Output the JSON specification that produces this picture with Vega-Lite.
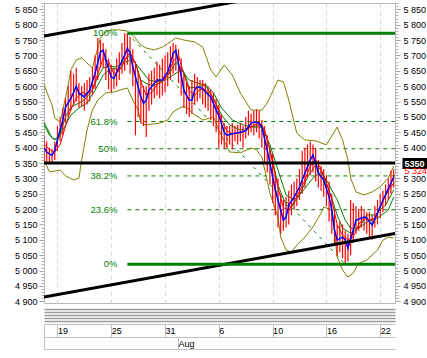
{
"$schema": "https://vega.github.io/schema/vega-lite/v6.json",
"width": 351, "height": 300,
"autosize": {"type": "none"},
"padding": {"left": 44, "top": 3, "right": 32, "bottom": 55},
"background": "white",
"config": {"view": {"stroke": "#b8b8b8", "strokeWidth": 1}, "axis": {"labelFont": "Liberation Sans", "labelFontSize": 9, "labelColor": "black"}},
"resolve": {"axis": {"x": "independent", "y": "independent"}},
"datasets": {
"fib": [{"name":"100%","p":5772,"i":31,"i2":130.5},{"name":"61.8%","p":5485,"i":31,"i2":130.5},{"name":"50%","p":5396.5,"i":31,"i2":130.5},{"name":"38.2%","p":5308,"i":31,"i2":130.5},{"name":"23.6%","p":5198,"i":31,"i2":130.5},{"name":"0%","p":5021,"i":31,"i2":130.5}],
"diag": [{"i":31,"p":5772},{"i":112,"p":5021}],
"trend": [{"s":"up","i":0,"p":5763},{"s":"up","i":130.5,"p":5967},{"s":"dn","i":0,"p":4914},{"s":"dn","i":130.5,"p":5121}],
"level": [{"p":5350}],
"bars": [
{"i":0,"lo":5350,"hi":5440},{"i":1,"lo":5355,"hi":5420},{"i":2,"lo":5345,"hi":5400},{"i":3,"lo":5350,"hi":5395},{"i":4,"lo":5360,"hi":5420},{"i":5,"lo":5390,"hi":5470},{"i":6,"lo":5420,"hi":5500},{"i":7,"lo":5440,"hi":5530},{"i":8,"lo":5480,"hi":5560},{"i":9,"lo":5500,"hi":5600},
{"i":10,"lo":5520,"hi":5650},{"i":11,"lo":5540,"hi":5640},{"i":12,"lo":5550,"hi":5660},{"i":13,"lo":5530,"hi":5610},{"i":14,"lo":5535,"hi":5600},{"i":15,"lo":5520,"hi":5610},{"i":16,"lo":5540,"hi":5620},{"i":17,"lo":5550,"hi":5630},{"i":18,"lo":5570,"hi":5660},{"i":19,"lo":5590,"hi":5700},
{"i":20,"lo":5620,"hi":5757},{"i":21,"lo":5660,"hi":5750},{"i":22,"lo":5660,"hi":5740},{"i":23,"lo":5620,"hi":5720},{"i":24,"lo":5590,"hi":5690},{"i":25,"lo":5580,"hi":5670},{"i":26,"lo":5590,"hi":5660},{"i":27,"lo":5600,"hi":5690},{"i":28,"lo":5620,"hi":5710},{"i":29,"lo":5640,"hi":5740},
{"i":30,"lo":5650,"hi":5772},{"i":31,"lo":5670,"hi":5772},{"i":32,"lo":5640,"hi":5760},{"i":33,"lo":5600,"hi":5720},{"i":34,"lo":5440,"hi":5680},{"i":35,"lo":5500,"hi":5650},{"i":36,"lo":5480,"hi":5620},{"i":37,"lo":5470,"hi":5600},{"i":38,"lo":5435,"hi":5600},{"i":39,"lo":5520,"hi":5640},
{"i":40,"lo":5540,"hi":5650},{"i":41,"lo":5560,"hi":5660},{"i":42,"lo":5570,"hi":5680},{"i":43,"lo":5560,"hi":5670},{"i":44,"lo":5570,"hi":5690},{"i":45,"lo":5580,"hi":5700},{"i":46,"lo":5600,"hi":5710},{"i":47,"lo":5620,"hi":5730},{"i":48,"lo":5640,"hi":5740},{"i":49,"lo":5650,"hi":5735},
{"i":50,"lo":5610,"hi":5720},{"i":51,"lo":5570,"hi":5690},{"i":52,"lo":5530,"hi":5640},{"i":53,"lo":5510,"hi":5610},{"i":54,"lo":5500,"hi":5600},{"i":55,"lo":5510,"hi":5620},{"i":56,"lo":5540,"hi":5640},{"i":57,"lo":5550,"hi":5630},{"i":58,"lo":5560,"hi":5620},{"i":59,"lo":5540,"hi":5620},
{"i":60,"lo":5530,"hi":5610},{"i":61,"lo":5520,"hi":5600},{"i":62,"lo":5490,"hi":5590},{"i":63,"lo":5470,"hi":5580},{"i":64,"lo":5450,"hi":5560},{"i":65,"lo":5400,"hi":5540},{"i":66,"lo":5410,"hi":5510},{"i":67,"lo":5395,"hi":5480},{"i":68,"lo":5400,"hi":5470},{"i":69,"lo":5410,"hi":5470},
{"i":70,"lo":5395,"hi":5480},{"i":71,"lo":5420,"hi":5470},{"i":72,"lo":5410,"hi":5475},{"i":73,"lo":5420,"hi":5480},{"i":74,"lo":5400,"hi":5470},{"i":75,"lo":5430,"hi":5500},{"i":76,"lo":5440,"hi":5520},{"i":77,"lo":5450,"hi":5510},{"i":78,"lo":5440,"hi":5520},{"i":79,"lo":5450,"hi":5525},
{"i":80,"lo":5430,"hi":5520},{"i":81,"lo":5400,"hi":5490},{"i":82,"lo":5350,"hi":5470},{"i":83,"lo":5320,"hi":5440},{"i":84,"lo":5280,"hi":5400},{"i":85,"lo":5220,"hi":5380},{"i":86,"lo":5180,"hi":5320},{"i":87,"lo":5140,"hi":5300},{"i":88,"lo":5120,"hi":5250},{"i":89,"lo":5130,"hi":5230},
{"i":90,"lo":5140,"hi":5240},{"i":91,"lo":5150,"hi":5260},{"i":92,"lo":5180,"hi":5280},{"i":93,"lo":5200,"hi":5290},{"i":94,"lo":5210,"hi":5300},{"i":95,"lo":5230,"hi":5330},{"i":96,"lo":5250,"hi":5390},{"i":97,"lo":5270,"hi":5400},{"i":98,"lo":5300,"hi":5410},{"i":99,"lo":5310,"hi":5420},
{"i":100,"lo":5320,"hi":5410},{"i":101,"lo":5290,"hi":5400},{"i":102,"lo":5270,"hi":5360},{"i":103,"lo":5260,"hi":5340},{"i":104,"lo":5240,"hi":5330},{"i":105,"lo":5210,"hi":5310},{"i":106,"lo":5160,"hi":5290},{"i":107,"lo":5120,"hi":5250},{"i":108,"lo":5080,"hi":5200},{"i":109,"lo":5050,"hi":5150},
{"i":110,"lo":5060,"hi":5160},{"i":111,"lo":5040,"hi":5150},{"i":112,"lo":5021,"hi":5130},{"i":113,"lo":5030,"hi":5120},{"i":114,"lo":5050,"hi":5230},{"i":115,"lo":5090,"hi":5220},{"i":116,"lo":5120,"hi":5210},{"i":117,"lo":5130,"hi":5200},{"i":118,"lo":5140,"hi":5210},{"i":119,"lo":5130,"hi":5200},
{"i":120,"lo":5120,"hi":5190},{"i":121,"lo":5110,"hi":5190},{"i":122,"lo":5100,"hi":5180},{"i":123,"lo":5140,"hi":5210},{"i":124,"lo":5150,"hi":5230},{"i":125,"lo":5170,"hi":5250},{"i":126,"lo":5190,"hi":5260},{"i":127,"lo":5210,"hi":5280},{"i":128,"lo":5230,"hi":5300},{"i":129,"lo":5250,"hi":5325},{"i":130,"lo":5270,"hi":5330}],
"blue": [{"i":0,"p":5400},{"i":1,"p":5385},{"i":3,"p":5375},{"i":4,"p":5390},{"i":5,"p":5425},{"i":7,"p":5490},{"i":8,"p":5532},{"i":10,"p":5560},{"i":12,"p":5600},{"i":13,"p":5577},{"i":15,"p":5565},{"i":17,"p":5587},{"i":19,"p":5642},{"i":21,"p":5711},{"i":22,"p":5717},{"i":23,"p":5685},{"i":25,"p":5630},{"i":26,"p":5625},{"i":28,"p":5663},{"i":30,"p":5701},{"i":31,"p":5723},{"i":32,"p":5707},{"i":33,"p":5663},{"i":35,"p":5598},{"i":36,"p":5565},{"i":37,"p":5544},{"i":38,"p":5554},{"i":39,"p":5587},{"i":41,"p":5609},{"i":42,"p":5620},{"i":44,"p":5620},{"i":46,"p":5646},{"i":47,"p":5674},{"i":48,"p":5706},{"i":49,"p":5717},{"i":50,"p":5674},{"i":51,"p":5636},{"i":52,"p":5587},{"i":54,"p":5554},{"i":55,"p":5554},{"i":56,"p":5587},{"i":57,"p":5598},{"i":59,"p":5593},{"i":60,"p":5581},{"i":62,"p":5565},{"i":63,"p":5544},{"i":64,"p":5522},{"i":65,"p":5505},{"i":67,"p":5450},{"i":68,"p":5440},{"i":70,"p":5445},{"i":73,"p":5450},{"i":75,"p":5455},{"i":77,"p":5480},{"i":78,"p":5483},{"i":80,"p":5480},{"i":81,"p":5465},{"i":82,"p":5430},{"i":83,"p":5390},{"i":84,"p":5350},{"i":86,"p":5262},{"i":88,"p":5197},{"i":89,"p":5164},{"i":90,"p":5174},{"i":91,"p":5213},{"i":93,"p":5239},{"i":95,"p":5272},{"i":97,"p":5317},{"i":99,"p":5360},{"i":100,"p":5376},{"i":101,"p":5350},{"i":102,"p":5317},{"i":104,"p":5295},{"i":106,"p":5239},{"i":107,"p":5197},{"i":108,"p":5132},{"i":109,"p":5099},{"i":111,"p":5109},{"i":112,"p":5100},{"i":113,"p":5073},{"i":115,"p":5132},{"i":116,"p":5164},{"i":119,"p":5174},{"i":120,"p":5171},{"i":122,"p":5148},{"i":124,"p":5187},{"i":126,"p":5229},{"i":129,"p":5285},{"i":130,"p":5304}],
"redma": [{"i":0,"p":5410},{"i":2,"p":5395},{"i":4,"p":5385},{"i":6,"p":5410},{"i":8,"p":5470},{"i":10,"p":5525},{"i":12,"p":5560},{"i":14,"p":5580},{"i":16,"p":5575},{"i":18,"p":5590},{"i":20,"p":5640},{"i":22,"p":5690},{"i":24,"p":5680},{"i":26,"p":5640},{"i":28,"p":5650},{"i":30,"p":5685},{"i":32,"p":5710},{"i":34,"p":5675},{"i":36,"p":5615},{"i":38,"p":5570},{"i":40,"p":5580},{"i":42,"p":5605},{"i":44,"p":5618},{"i":46,"p":5635},{"i":48,"p":5680},{"i":50,"p":5700},{"i":52,"p":5640},{"i":54,"p":5585},{"i":56,"p":5570},{"i":58,"p":5590},{"i":60,"p":5588},{"i":62,"p":5572},{"i":64,"p":5540},{"i":66,"p":5490},{"i":68,"p":5455},{"i":70,"p":5445},{"i":73,"p":5448},{"i":76,"p":5462},{"i":79,"p":5478},{"i":81,"p":5475},{"i":83,"p":5430},{"i":85,"p":5350},{"i":87,"p":5270},{"i":89,"p":5205},{"i":91,"p":5195},{"i":93,"p":5225},{"i":95,"p":5258},{"i":97,"p":5295},{"i":99,"p":5340},{"i":101,"p":5360},{"i":103,"p":5330},{"i":105,"p":5285},{"i":107,"p":5230},{"i":109,"p":5150},{"i":111,"p":5115},{"i":113,"p":5100},{"i":115,"p":5110},{"i":117,"p":5150},{"i":119,"p":5170},{"i":121,"p":5165},{"i":123,"p":5170},{"i":125,"p":5205},{"i":127,"p":5245},{"i":130,"p":5285}],
"g1": [{"i":0,"p":5474},{"i":2,"p":5441},{"i":4,"p":5425},{"i":6,"p":5447},{"i":8,"p":5500},{"i":10,"p":5532},{"i":13,"p":5545},{"i":15,"p":5555},{"i":18,"p":5587},{"i":20,"p":5630},{"i":22,"p":5660},{"i":25,"p":5665},{"i":27,"p":5662},{"i":30,"p":5685},{"i":32,"p":5701},{"i":34,"p":5675},{"i":36,"p":5620},{"i":39,"p":5604},{"i":41,"p":5604},{"i":44,"p":5614},{"i":47,"p":5646},{"i":49,"p":5679},{"i":52,"p":5646},{"i":54,"p":5594},{"i":57,"p":5597},{"i":60,"p":5604},{"i":63,"p":5561},{"i":66,"p":5506},{"i":69,"p":5474},{"i":73,"p":5457},{"i":77,"p":5467},{"i":80,"p":5474},{"i":82,"p":5457},{"i":85,"p":5360},{"i":87,"p":5278},{"i":90,"p":5213},{"i":92,"p":5207},{"i":95,"p":5246},{"i":98,"p":5304},{"i":101,"p":5344},{"i":103,"p":5327},{"i":106,"p":5262},{"i":109,"p":5181},{"i":111,"p":5138},{"i":114,"p":5122},{"i":117,"p":5138},{"i":120,"p":5181},{"i":123,"p":5181},{"i":127,"p":5213},{"i":130,"p":5262}],
"g2": [{"i":0,"p":5483},{"i":3,"p":5431},{"i":5,"p":5425},{"i":7,"p":5457},{"i":10,"p":5506},{"i":13,"p":5529},{"i":16,"p":5545},{"i":19,"p":5587},{"i":22,"p":5636},{"i":25,"p":5659},{"i":28,"p":5653},{"i":30,"p":5679},{"i":33,"p":5685},{"i":36,"p":5653},{"i":39,"p":5620},{"i":42,"p":5614},{"i":45,"p":5620},{"i":48,"p":5636},{"i":51,"p":5653},{"i":54,"p":5620},{"i":57,"p":5610},{"i":60,"p":5604},{"i":63,"p":5578},{"i":66,"p":5529},{"i":70,"p":5490},{"i":74,"p":5474},{"i":77,"p":5467},{"i":81,"p":5467},{"i":84,"p":5409},{"i":87,"p":5327},{"i":90,"p":5246},{"i":93,"p":5230},{"i":96,"p":5256},{"i":100,"p":5301},{"i":103,"p":5321},{"i":105,"p":5295},{"i":109,"p":5230},{"i":112,"p":5164},{"i":114,"p":5138},{"i":117,"p":5138},{"i":120,"p":5158},{"i":124,"p":5171},{"i":128,"p":5197},{"i":130,"p":5239}],
"bbu": [{"i":0,"p":5607},{"i":1,"p":5581},{"i":3,"p":5539},{"i":4,"p":5496},{"i":6,"p":5483},{"i":7,"p":5522},{"i":9,"p":5604},{"i":10,"p":5653},{"i":12,"p":5685},{"i":14,"p":5692},{"i":16,"p":5675},{"i":18,"p":5659},{"i":19,"p":5692},{"i":21,"p":5757},{"i":23,"p":5776},{"i":25,"p":5783},{"i":28,"p":5783},{"i":31,"p":5779},{"i":33,"p":5766},{"i":36,"p":5734},{"i":38,"p":5724},{"i":41,"p":5718},{"i":44,"p":5727},{"i":47,"p":5744},{"i":49,"p":5757},{"i":52,"p":5750},{"i":56,"p":5744},{"i":59,"p":5727},{"i":62,"p":5653},{"i":64,"p":5630},{"i":67,"p":5669},{"i":70,"p":5636},{"i":73,"p":5578},{"i":77,"p":5522},{"i":81,"p":5522},{"i":83,"p":5545},{"i":87,"p":5620},{"i":89,"p":5614},{"i":91,"p":5555},{"i":94,"p":5447},{"i":97,"p":5425},{"i":101,"p":5422},{"i":105,"p":5409},{"i":109,"p":5467},{"i":111,"p":5425},{"i":113,"p":5360},{"i":114,"p":5301},{"i":116,"p":5256},{"i":119,"p":5246},{"i":122,"p":5256},{"i":125,"p":5272},{"i":128,"p":5301},{"i":130,"p":5340}],
"bbl": [{"i":0,"p":5360},{"i":2,"p":5321},{"i":6,"p":5327},{"i":8,"p":5308},{"i":11,"p":5295},{"i":13,"p":5301},{"i":14,"p":5360},{"i":16,"p":5457},{"i":17,"p":5490},{"i":18,"p":5522},{"i":20,"p":5555},{"i":23,"p":5578},{"i":26,"p":5581},{"i":28,"p":5587},{"i":31,"p":5594},{"i":33,"p":5555},{"i":35,"p":5522},{"i":36,"p":5480},{"i":38,"p":5474},{"i":43,"p":5480},{"i":46,"p":5490},{"i":48,"p":5516},{"i":51,"p":5532},{"i":53,"p":5532},{"i":55,"p":5513},{"i":59,"p":5490},{"i":63,"p":5500},{"i":65,"p":5457},{"i":69,"p":5386},{"i":73,"p":5383},{"i":77,"p":5399},{"i":79,"p":5393},{"i":81,"p":5370},{"i":84,"p":5252},{"i":87,"p":5174},{"i":88,"p":5109},{"i":90,"p":5067},{"i":92,"p":5060},{"i":94,"p":5083},{"i":97,"p":5109},{"i":100,"p":5142},{"i":103,"p":5187},{"i":104,"p":5207},{"i":107,"p":5197},{"i":108,"p":5132},{"i":109,"p":5044},{"i":111,"p":5002},{"i":113,"p":4979},{"i":115,"p":4992},{"i":117,"p":5024},{"i":120,"p":5034},{"i":124,"p":5067},{"i":126,"p":5099},{"i":128,"p":5109},{"i":130,"p":5106}]
},
"layer": [
{"data": {"name": "fib"}, "transform": [{"filter": "datum.name != '100%' && datum.name != '0%'"}],
 "mark": {"type": "rule", "color": "#008000", "strokeWidth": 1, "strokeDash": [4, 4]},
 "encoding": {
  "x": {"field": "i", "type": "quantitative", "scale": {"domain": [0, 130.5], "nice": false, "zero": false}, "title": null,
        "axis": {"orient": "bottom", "values": [5, 25, 45, 65, 85, 105, 125], "grid": true, "gridColor": "#d4d4d4", "gridDash": [4, 4], "gridWidth": 1, "ticks": false, "labels": false, "domain": false}},
  "x2": {"field": "i2"},
  "y": {"field": "p", "type": "quantitative", "scale": {"domain": [4894.6, 5870.5], "nice": false, "zero": false}, "title": null,
        "axis": {"orient": "left", "values": [4900,4950,5000,5050,5100,5150,5200,5250,5300,5350,5400,5450,5500,5550,5600,5650,5700,5750,5800,5850], "tickSize": 5, "tickColor": "#a0a0a0", "domain": false, "grid": false, "labelPadding": 2, "labelOverlap": false, "labelExpr": "replace(format(datum.value, ','), ',', ' ')"}}
 }},
{"data": {"name": "diag"}, "mark": {"type": "line", "color": "#008000", "strokeWidth": 1, "strokeDash": [3, 5], "clip": true},
 "encoding": {
  "x": {"field": "i", "type": "quantitative", "scale": {"domain": [0, 130.5], "nice": false, "zero": false}, "title": null,
        "axis": {"orient": "bottom", "offset": 21, "values": [0, 5, 25, 45, 65, 85, 105, 125], "domain": true, "domainColor": "#c0c0c0", "ticks": true, "tickSize": 13, "tickColor": "#c0c0c0", "grid": false, "labelAlign": "left", "labelBaseline": "top", "labelPadding": -11, "labelDx": 3, "labelFlush": false, "labelOverlap": false, "labelExpr": "datum.value < 1 ? '' : ['19','25','31','6','10','16','22'][round((datum.value - 5) / 20)]"}},
  "y": {"field": "p", "type": "quantitative", "scale": {"domain": [4894.6, 5870.5], "nice": false, "zero": false}, "title": null,
        "axis": {"orient": "left", "values": [4900,4910,4920,4930,4940,4950,4960,4970,4980,4990,5000,5010,5020,5030,5040,5050,5060,5070,5080,5090,5100,5110,5120,5130,5140,5150,5160,5170,5180,5190,5200,5210,5220,5230,5240,5250,5260,5270,5280,5290,5300,5310,5320,5330,5340,5350,5360,5370,5380,5390,5400,5410,5420,5430,5440,5450,5460,5470,5480,5490,5500,5510,5520,5530,5540,5550,5560,5570,5580,5590,5600,5610,5620,5630,5640,5650,5660,5670,5680,5690,5700,5710,5720,5730,5740,5750,5760,5770,5780,5790,5800,5810,5820,5830,5840,5850,5860,5870], "tickSize": 3, "tickColor": "#b0b0b0", "labels": false, "domain": false, "grid": false}}
 }},
{"data": {"name": "bbu"}, "mark": {"type": "line", "color": "#808000", "strokeWidth": 1, "clip": true},
 "encoding": {
  "x": {"field": "i", "type": "quantitative", "scale": {"domain": [0, 130.5], "nice": false, "zero": false}, "title": null,
        "axis": {"orient": "bottom", "offset": 34, "values": [0, 49.8], "domain": true, "domainColor": "#c0c0c0", "ticks": true, "tickSize": 12, "tickColor": "#c0c0c0", "grid": false, "labelAlign": "left", "labelBaseline": "top", "labelPadding": -10, "labelDx": 3, "labelFlush": false, "labelOverlap": false, "labelExpr": "datum.value < 1 ? '' : 'Aug'"}},
  "y": {"field": "p", "type": "quantitative", "scale": {"domain": [4894.6, 5870.5], "nice": false, "zero": false}, "title": null,
        "axis": {"orient": "right", "values": [4900,4950,5000,5050,5100,5150,5200,5250,5300,5350,5400,5450,5500,5550,5600,5650,5700,5750,5800,5850], "tickSize": 5, "tickColor": "#a0a0a0", "domain": false, "grid": false, "labelPadding": 3, "labelOverlap": false, "labelExpr": "datum.value == 5350 ? '' : replace(format(datum.value, ','), ',', ' ')"}}
 }},
{"data": {"name": "bbl"}, "mark": {"type": "line", "color": "#808000", "strokeWidth": 1, "clip": true},
 "encoding": {
  "x": {"field": "i", "type": "quantitative", "scale": {"domain": [0, 130.5], "nice": false, "zero": false}, "title": null,
        "axis": {"orient": "bottom", "offset": 46, "domain": true, "domainColor": "#c0c0c0", "ticks": false, "labels": false, "grid": false}},
  "y": {"field": "p", "type": "quantitative", "scale": {"domain": [4894.6, 5870.5], "nice": false, "zero": false}, "title": null,
        "axis": {"orient": "right", "values": [4900,4910,4920,4930,4940,4950,4960,4970,4980,4990,5000,5010,5020,5030,5040,5050,5060,5070,5080,5090,5100,5110,5120,5130,5140,5150,5160,5170,5180,5190,5200,5210,5220,5230,5240,5250,5260,5270,5280,5290,5300,5310,5320,5330,5340,5350,5360,5370,5380,5390,5400,5410,5420,5430,5440,5450,5460,5470,5480,5490,5500,5510,5520,5530,5540,5550,5560,5570,5580,5590,5600,5610,5620,5630,5640,5650,5660,5670,5680,5690,5700,5710,5720,5730,5740,5750,5760,5770,5780,5790,5800,5810,5820,5830,5840,5850,5860,5870], "tickSize": 3, "tickColor": "#b0b0b0", "labels": false, "domain": false, "grid": false}}
 }},
{"data": {"name": "g2"}, "mark": {"type": "line", "color": "#008000", "strokeWidth": 1, "clip": true},
 "encoding": {
  "x": {"field": "i", "type": "quantitative", "scale": {"domain": [0, 130.5], "nice": false, "zero": false}, "title": null,
        "axis": {"orient": "bottom", "offset": 6, "domain": true, "domainColor": "#9a9a9a", "domainWidth": 1.5, "ticks": false, "labels": false, "grid": false}},
  "y": {"field": "p", "type": "quantitative", "scale": {"domain": [4894.6, 5870.5], "nice": false, "zero": false}, "title": null,
        "axis": {"orient": "right", "offset": 7, "values": [5350, 5324], "tickSize": 30, "tickWidth": 11, "tickColor": {"condition": {"test": "datum.value == 5350", "value": "black"}, "value": "transparent"}, "domain": false, "grid": false, "labelPadding": -28, "labelOverlap": false, "labelColor": {"condition": {"test": "datum.value == 5350", "value": "white"}, "value": "red"}, "labelFontWeight": {"condition": {"test": "datum.value == 5350", "value": "bold"}, "value": "normal"}, "labelExpr": "datum.value == 5350 ? '5350' : '5 324,'"}}
 }},
{"data": {"name": "g1"}, "mark": {"type": "line", "color": "#008000", "strokeWidth": 1, "clip": true},
 "encoding": {
  "x": {"field": "i", "type": "quantitative", "scale": {"domain": [0, 130.5], "nice": false, "zero": false}, "title": null,
        "axis": {"orient": "bottom", "offset": 9, "domain": true, "domainColor": "#9a9a9a", "domainWidth": 1.5, "ticks": false, "labels": false, "grid": false}},
  "y": {"field": "p", "type": "quantitative", "scale": {"domain": [4894.6, 5870.5], "nice": false, "zero": false}, "title": null, "axis": null}
 }},
{"data": {"name": "bars"}, "mark": {"type": "rule", "color": "#ff0000", "strokeWidth": 1.2, "clip": true},
 "encoding": {
  "x": {"field": "i", "type": "quantitative", "scale": {"domain": [0, 130.5], "nice": false, "zero": false}, "title": null,
        "axis": {"orient": "bottom", "offset": 12, "domain": true, "domainColor": "#9a9a9a", "domainWidth": 1.5, "ticks": false, "labels": false, "grid": false}},
  "y": {"field": "lo", "type": "quantitative", "scale": {"domain": [4894.6, 5870.5], "nice": false, "zero": false}, "title": null, "axis": null},
  "y2": {"field": "hi"}
 }},
{"data": {"name": "redma"}, "mark": {"type": "line", "color": "#ff0000", "strokeWidth": 1, "clip": true},
 "encoding": {
  "x": {"field": "i", "type": "quantitative", "scale": {"domain": [0, 130.5], "nice": false, "zero": false}, "title": null,
        "axis": {"orient": "bottom", "offset": 15, "domain": true, "domainColor": "#9a9a9a", "domainWidth": 1.5, "ticks": false, "labels": false, "grid": false}},
  "y": {"field": "p", "type": "quantitative", "scale": {"domain": [4894.6, 5870.5], "nice": false, "zero": false}, "title": null, "axis": null}
 }},
{"data": {"name": "blue"}, "mark": {"type": "line", "color": "#0000ff", "strokeWidth": 1.5, "clip": true},
 "encoding": {
  "x": {"field": "i", "type": "quantitative", "scale": {"domain": [0, 130.5], "nice": false, "zero": false}, "title": null,
        "axis": {"orient": "bottom", "offset": 18, "domain": true, "domainColor": "#9a9a9a", "domainWidth": 1.5, "ticks": false, "labels": false, "grid": false}},
  "y": {"field": "p", "type": "quantitative", "scale": {"domain": [4894.6, 5870.5], "nice": false, "zero": false}, "title": null, "axis": null}
 }},
{"data": {"name": "trend"}, "mark": {"type": "line", "color": "black", "strokeWidth": 3, "clip": true},
 "encoding": {
  "x": {"field": "i", "type": "quantitative", "scale": {"domain": [0, 130.5], "nice": false, "zero": false}, "title": null, "axis": null},
  "y": {"field": "p", "type": "quantitative", "scale": {"domain": [4894.6, 5870.5], "nice": false, "zero": false}, "title": null, "axis": null},
  "detail": {"field": "s"}
 }},
{"data": {"name": "level"}, "mark": {"type": "rule", "color": "black", "strokeWidth": 3},
 "encoding": {
  "y": {"field": "p", "type": "quantitative", "scale": {"domain": [4894.6, 5870.5], "nice": false, "zero": false}, "title": null, "axis": null}
 }},
{"data": {"name": "fib"}, "transform": [{"filter": "datum.name == '100%' || datum.name == '0%'"}],
 "mark": {"type": "rule", "color": "#008000", "strokeWidth": 3},
 "encoding": {
  "x": {"field": "i", "type": "quantitative", "scale": {"domain": [0, 130.5], "nice": false, "zero": false}, "title": null, "axis": null},
  "x2": {"field": "i2"},
  "y": {"field": "p", "type": "quantitative", "scale": {"domain": [4894.6, 5870.5], "nice": false, "zero": false}, "title": null, "axis": null}
 }},
{"data": {"name": "fib"},
 "mark": {"type": "text", "color": "#008000", "align": "right", "baseline": "middle", "dx": -10, "font": "Liberation Sans", "fontSize": 9.5},
 "encoding": {
  "x": {"field": "i", "type": "quantitative", "scale": {"domain": [0, 130.5], "nice": false, "zero": false}, "title": null, "axis": null},
  "y": {"field": "p", "type": "quantitative", "scale": {"domain": [4894.6, 5870.5], "nice": false, "zero": false}, "title": null, "axis": null},
  "text": {"field": "name"}
 }}
]
}
